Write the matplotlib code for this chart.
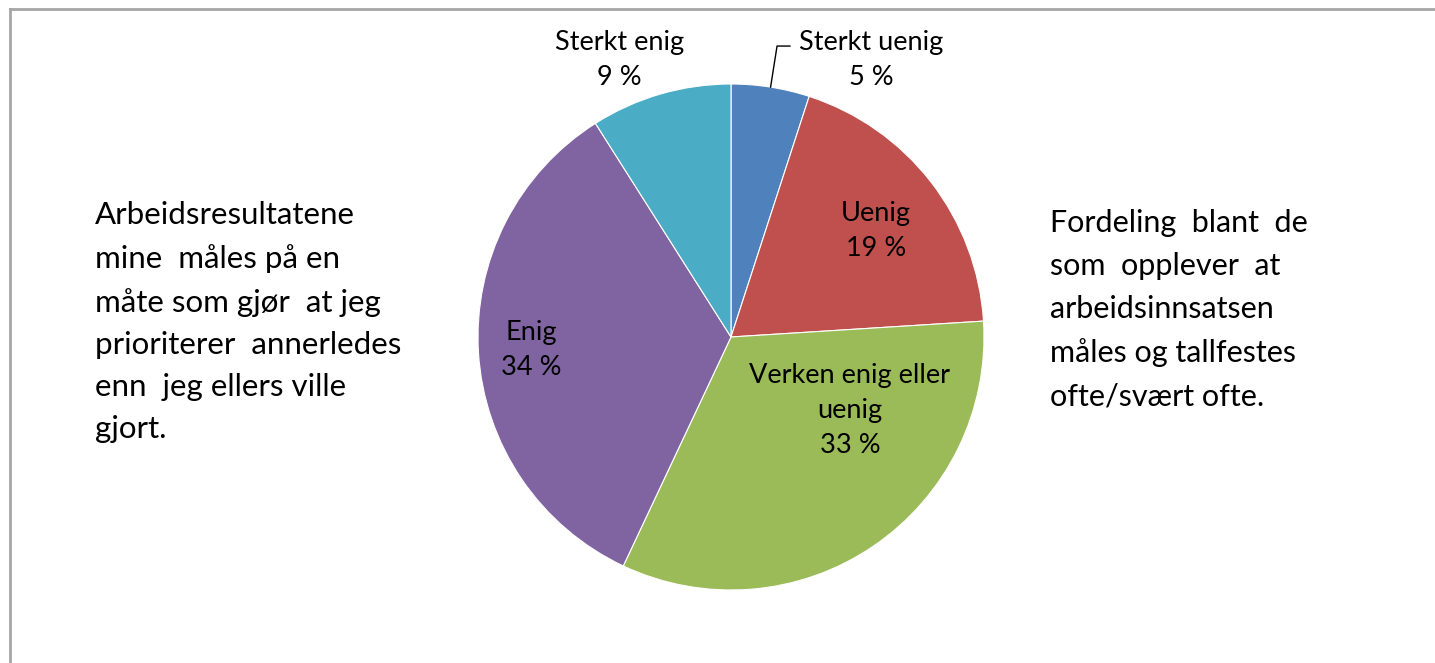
import numpy as np
import matplotlib
matplotlib.use('Agg')
import matplotlib.pyplot as plt
from matplotlib.lines import Line2D

# Data
categories = ['Sterkt uenig', 'Uenig', 'Verken enig eller\nuenig', 'Enig', 'Sterkt enig']
shares = [5, 19, 33, 34, 9]
colors = ['#4F81BD', '#C0504D', '#9BBB59', '#8064A2', '#4BACC6']

left_note = ("Arbeidsresultatene\nmine  måles på en\nmåte som gjør  at jeg\n"
             "prioriterer  annerledes\nenn  jeg ellers ville\ngjort.")
right_note = ("Fordeling  blant  de\nsom  opplever  at\narbeidsinnsatsen\n"
              "måles og tallfestes\nofte/svært ofte.")

plt.rcParams['font.family'] = ['Lato', 'DejaVu Sans']

W, H = 1435, 663
fig = plt.figure(figsize=(W / 100, H / 100), dpi=100)

# pie axes placed by pixel position of the circle
cx, cy, r = 731, 337, 253
ax = fig.add_axes([(cx - r) / W, (H - cy - r) / H, 2 * r / W, 2 * r / H])
wedges, _ = ax.pie(shares, colors=colors, startangle=90, counterclock=False,
                   radius=1, wedgeprops=dict(edgecolor='white', linewidth=0.8))
ax.set_xlim(-1, 1)
ax.set_ylim(-1, 1)
ax.set_aspect('equal')
ax.axis('off')

# label positions (in radius units)
label_pos = [(0.555, 1.095), (0.573, 0.42), (0.47, -0.29), (-0.79, -0.05), (-0.44, 1.095)]
for cat, val, (lx, ly) in zip(categories, shares, label_pos):
    ax.text(lx, ly, f"{cat}\n{val} %", ha='center', va='center', fontsize=19.5,
            color='black', linespacing=1.5, clip_on=False)

# leader line for smallest slice
w = wedges[0]
mid = np.deg2rad((w.theta1 + w.theta2) / 2)
x0, y0 = np.cos(mid), np.sin(mid)
ax.plot([x0, 0.182, 0.233], [y0, 1.15, 1.15], color='black', lw=1, clip_on=False)

# side notes
fig.text(95 / W, 1 - 201 / H, left_note, ha='left', va='top', fontsize=22.5,
         linespacing=1.62, color='black')
fig.text(1050 / W, 1 - 209 / H, right_note, ha='left', va='top', fontsize=22,
         linespacing=1.65, color='black')

# chart border (partially visible)
fig.add_artist(Line2D([10 / W, 1], [1 - 9 / H, 1 - 9 / H], color='#a6a6a6', lw=2,
                      transform=fig.transFigure))
fig.add_artist(Line2D([10 / W, 10 / W], [0, 1 - 9 / H], color='#a6a6a6', lw=2,
                      transform=fig.transFigure))

fig.savefig('out.png', dpi=100)
